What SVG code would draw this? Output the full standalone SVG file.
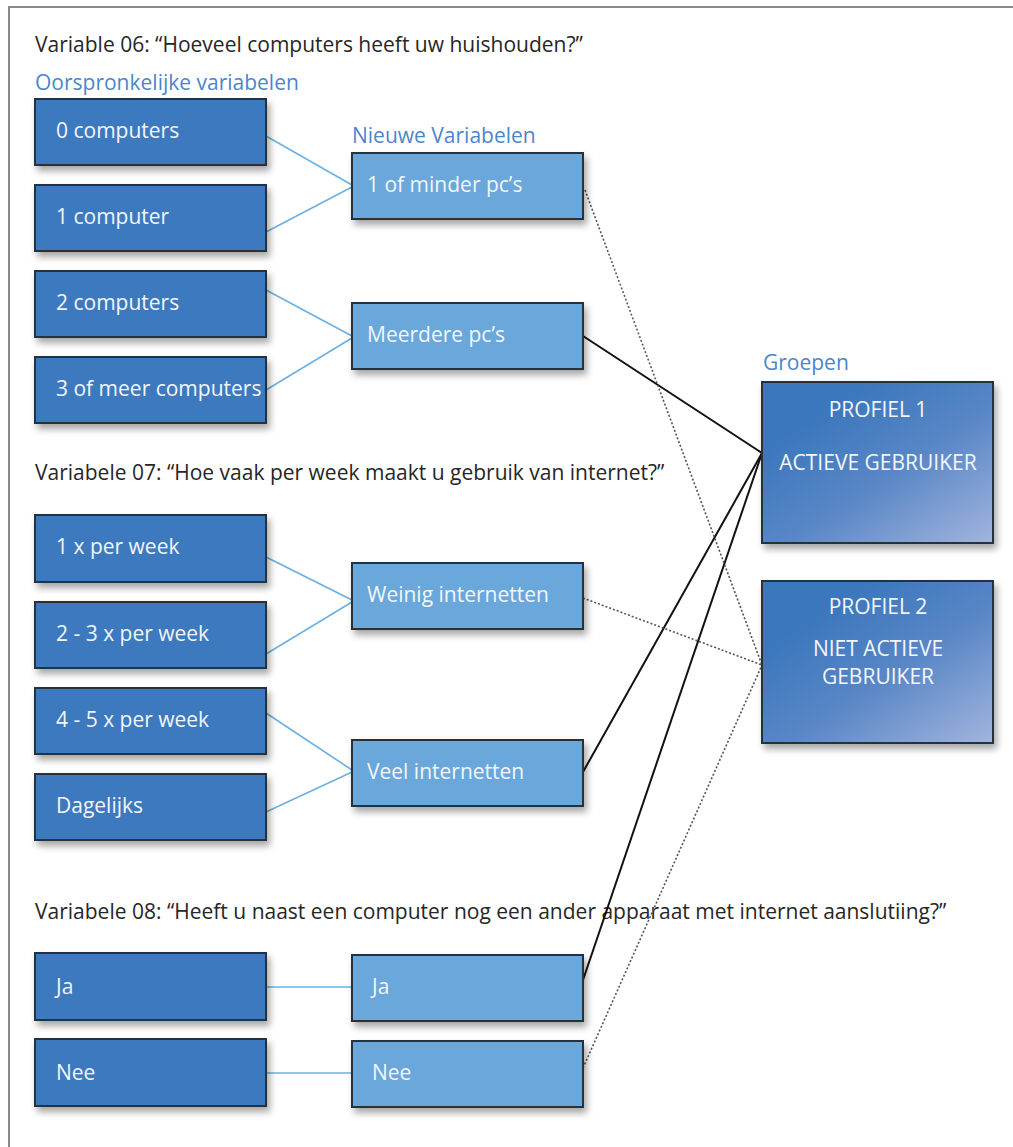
<svg xmlns="http://www.w3.org/2000/svg" width="1013" height="1147" viewBox="0 0 1013 1147">
  <style>
    .t { font-family: "Open Sans", "Liberation Sans", sans-serif; font-size: 21px; }
    .hdr { fill: #262626; }
    .lbl { fill: #4a86cc; }
    .bt { fill: #f2f6fb; }
    .dark { fill: #3c79bf; stroke: #26303b; stroke-width: 2; }
    .light { fill: #6ba7db; stroke: #26303b; stroke-width: 2; }
    .prof { fill: url(#pg); stroke: #26303b; stroke-width: 2; }
    .blue { stroke: #6cb0e3; stroke-width: 1.6; fill: none; }
    .solid { stroke: #111; stroke-width: 2; fill: none; }
    .dot { stroke: #555; stroke-width: 1.6; stroke-dasharray: 2 2; fill: none; }
  </style>
  <defs>
    <filter id="sh" x="-10%" y="-20%" width="130%" height="150%">
      <feDropShadow dx="3" dy="5" stdDeviation="3.5" flood-color="#000" flood-opacity="0.35"/>
    </filter>
    <linearGradient id="pg" x1="0.25" y1="0.2" x2="1" y2="1">
      <stop offset="0" stop-color="#3b77bd"/>
      <stop offset="0.45" stop-color="#5a87c6"/>
      <stop offset="1" stop-color="#a2b5de"/>
    </linearGradient>
  </defs>

  <rect x="0" y="0" width="1013" height="1147" fill="#ffffff"/>
  <rect x="9" y="7" width="1020" height="1160" fill="none" stroke="#8a8a8a" stroke-width="2"/>

  <!-- headings -->
  <g id="headings" class="t">
    <text class="hdr" x="35" y="52">Variable 06: “Hoeveel computers heeft uw huishouden?”</text>
    <text class="lbl" x="35" y="90">Oorspronkelijke variabelen</text>
    <text class="lbl" x="352" y="143">Nieuwe Variabelen</text>
    <text class="lbl" x="763" y="370">Groepen</text>
    <text class="hdr" x="35" y="480">Variabele 07: “Hoe vaak per week maakt u gebruik van internet?”</text>
    <text class="hdr" x="35" y="919">Variabele 08: “Heeft u naast een computer nog een ander apparaat met internet aanslutiing?”</text>
  </g>

  <!-- connectors -->
  <g id="connectors">
    <line class="blue" x1="266" y1="136" x2="352" y2="185"/>
    <line class="blue" x1="266" y1="232" x2="352" y2="187"/>
    <line class="blue" x1="266" y1="290" x2="352" y2="336"/>
    <line class="blue" x1="266" y1="390" x2="352" y2="338"/>
    <line class="blue" x1="266" y1="557" x2="352" y2="600"/>
    <line class="blue" x1="266" y1="654" x2="352" y2="602"/>
    <line class="blue" x1="266" y1="713" x2="352" y2="770"/>
    <line class="blue" x1="266" y1="812" x2="352" y2="772"/>
    <line class="blue" x1="266" y1="987" x2="352" y2="987"/>
    <line class="blue" x1="266" y1="1073" x2="352" y2="1073"/>

    <line class="solid" x1="583" y1="336" x2="762" y2="453"/>
    <line class="solid" x1="583" y1="772" x2="762" y2="453"/>
    <line class="solid" x1="583" y1="980" x2="762" y2="453"/>

    <line class="dot" x1="585" y1="190" x2="762" y2="665"/>
    <line class="dot" x1="583" y1="598" x2="762" y2="665"/>
    <line class="dot" x1="583" y1="1068" x2="762" y2="665"/>
  </g>

  <!-- original variables -->
  <g id="n-0computers"><rect class="dark" filter="url(#sh)" x="35" y="99" width="231" height="66"/><text class="t bt" x="56" y="138">0 computers</text></g>
  <g id="n-1computer"><rect class="dark" filter="url(#sh)" x="35" y="185" width="231" height="66"/><text class="t bt" x="56" y="224">1 computer</text></g>
  <g id="n-2computers"><rect class="dark" filter="url(#sh)" x="35" y="271" width="231" height="66"/><text class="t bt" x="56" y="310">2 computers</text></g>
  <g id="n-3computers"><rect class="dark" filter="url(#sh)" x="35" y="357" width="231" height="66"/><text class="t bt" x="56" y="396">3 of meer computers</text></g>

  <g id="n-1xweek"><rect class="dark" filter="url(#sh)" x="35" y="515" width="231" height="67"/><text class="t bt" x="56" y="554">1 x per week</text></g>
  <g id="n-23xweek"><rect class="dark" filter="url(#sh)" x="35" y="602" width="231" height="66"/><text class="t bt" x="56" y="641">2 - 3 x per week</text></g>
  <g id="n-45xweek"><rect class="dark" filter="url(#sh)" x="35" y="688" width="231" height="66"/><text class="t bt" x="56" y="727">4 - 5 x per week</text></g>
  <g id="n-dagelijks"><rect class="dark" filter="url(#sh)" x="35" y="774" width="231" height="66"/><text class="t bt" x="56" y="813">Dagelijks</text></g>

  <g id="n-ja"><rect class="dark" filter="url(#sh)" x="35" y="953" width="231" height="67"/><text class="t bt" x="56" y="994">Ja</text></g>
  <g id="n-nee"><rect class="dark" filter="url(#sh)" x="35" y="1039" width="231" height="67"/><text class="t bt" x="56" y="1080">Nee</text></g>

  <!-- new variables -->
  <g id="m-1ofminder"><rect class="light" filter="url(#sh)" x="352" y="153" width="231" height="66"/><text class="t bt" x="367" y="192">1 of minder pc’s</text></g>
  <g id="m-meerdere"><rect class="light" filter="url(#sh)" x="352" y="303" width="231" height="66"/><text class="t bt" x="367" y="342">Meerdere pc’s</text></g>
  <g id="m-weinig"><rect class="light" filter="url(#sh)" x="352" y="563" width="231" height="66"/><text class="t bt" x="367" y="602">Weinig internetten</text></g>
  <g id="m-veel"><rect class="light" filter="url(#sh)" x="352" y="740" width="231" height="66"/><text class="t bt" x="367" y="779">Veel internetten</text></g>
  <g id="m-ja"><rect class="light" filter="url(#sh)" x="352" y="955" width="231" height="66"/><text class="t bt" x="372" y="994">Ja</text></g>
  <g id="m-nee"><rect class="light" filter="url(#sh)" x="352" y="1041" width="231" height="66"/><text class="t bt" x="372" y="1080">Nee</text></g>

  <!-- groups -->
  <g id="g-profiel1"><rect class="prof" filter="url(#sh)" x="762" y="382" width="231" height="161"/>
    <text class="t bt" x="878" y="417" text-anchor="middle">PROFIEL 1</text>
    <text class="t bt" x="878" y="470" text-anchor="middle">ACTIEVE GEBRUIKER</text></g>
  <g id="g-profiel2"><rect class="prof" filter="url(#sh)" x="762" y="581" width="231" height="162"/>
    <text class="t bt" x="878" y="614" text-anchor="middle">PROFIEL 2</text>
    <text class="t bt" x="878" y="656" text-anchor="middle">NIET ACTIEVE</text>
    <text class="t bt" x="878" y="684" text-anchor="middle">GEBRUIKER</text></g>
</svg>
